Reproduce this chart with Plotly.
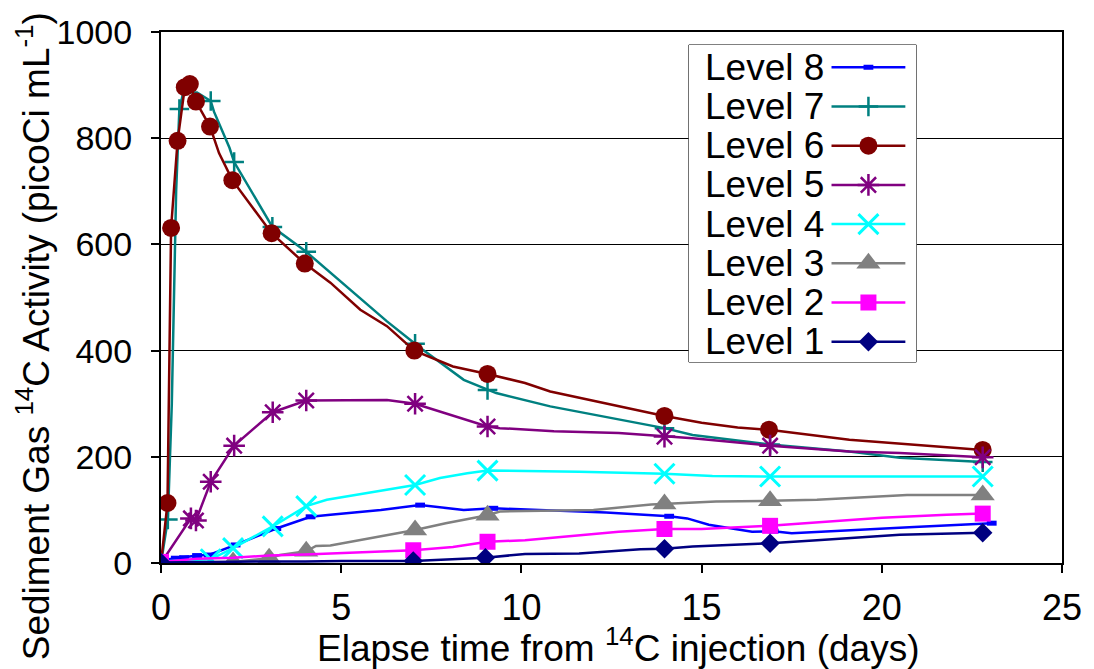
import plotly.graph_objects as go

# ---- data: elapsed time (days) and sediment gas 14C activity (picoCi/mL) ----
t_level1 = [0, 1, 2, 3, 4, 5, 7, 9, 10.1, 11.6, 13.3, 13.97, 14.75, 16.4, 16.9, 18.2, 20.5, 22.8]
v_level1 = [1, 2, 3, 3, 3, 4, 4, 10, 17, 18, 26, 27, 31, 35, 37, 43, 53, 57]
mk_level1 = [0, 6, 7, 11, 14, 17]

t_level2 = [0, 1, 2, 3, 4, 5, 7, 8.1, 9.06, 10.1, 12.7, 13.97, 15, 16.9, 19.1, 20, 21.8, 22.8]
v_level2 = [2, 8, 10, 14, 16, 19, 24, 30, 40, 43, 59, 64, 64, 70, 81, 85, 91, 93]
mk_level2 = [0, 6, 8, 11, 13, 17]

t_level3 = [0, 1, 2, 3, 3.3, 4.03, 4.3, 4.7, 6.1, 7.05, 7.9, 9.06, 9.4, 12, 13.6, 13.97, 15.4, 16.9, 18.2, 20.7, 22.8]
v_level3 = [0, 1, 2, 9, 15, 22, 32, 33, 50, 62, 75, 90, 97, 100, 110, 111, 116, 117, 119, 128, 128]
mk_level3 = [0, 2, 3, 5, 9, 11, 15, 17, 20]

t_level4 = [0, 0.5, 1.0, 1.38, 2.0, 3.1, 4.03, 4.6, 7.05, 7.74, 8.5, 9.06, 11.6, 13.97, 15.3, 16.9, 22.8]
v_level4 = [3, 5, 6, 7, 28, 69, 107, 119, 147, 160, 169, 174, 172, 168, 164, 163, 163]
mk_level4 = [3, 4, 5, 6, 8, 11, 13, 15, 16]

t_level5 = [0, 0.83, 0.97, 1.38, 2.03, 3.1, 4.03, 6.27, 7.05, 7.74, 9.06, 9.4, 10.9, 12.7, 13.97, 14.75, 16.9, 19.1, 20.5, 22.8]
v_level5 = [0, 84, 80, 153, 221, 284, 306, 307, 300, 285, 257, 254, 248, 245, 238, 235, 221, 210, 207, 199]
mk_level5 = [1, 2, 3, 4, 5, 6, 8, 10, 14, 16, 19]

t_level6 = [0, 0.18, 0.28, 0.46, 0.66, 0.8, 0.97, 1.36, 1.61, 1.98, 3.07, 3.99, 4.7, 5.53, 6.27, 7.03, 8.1, 9.06, 10.1, 10.8, 13.97, 15.0, 16.0, 16.87, 19.1, 22.8]
v_level6 = [0, 113, 631, 795, 896, 902, 869, 822, 772, 721, 621, 564, 528, 477, 446, 400, 370, 356, 339, 323, 277, 264, 255, 251, 232, 213]
mk_level6 = [1, 2, 3, 4, 5, 6, 7, 9, 10, 11, 15, 17, 20, 23, 25]

t_level7 = [0, 0.19, 0.3, 0.42, 0.51, 0.62, 1.0, 1.38, 1.47, 1.9, 2.03, 3.09, 4.03, 6.27, 7.05, 7.2, 8.4, 9.06, 9.3, 10.8, 12.7, 13.97, 14.75, 16.9, 19.1, 20.5, 22.8]
v_level7 = [0, 82, 300, 700, 855, 886, 886, 870, 850, 782, 755, 633, 586, 455, 413, 405, 345, 326, 320, 295, 270, 254, 241, 223, 210, 198, 190]
mk_level7 = [1, 4, 7, 10, 11, 12, 14, 17, 21, 23, 26]

t_level8 = [0, 0.41, 0.64, 1.0, 1.33, 2.07, 3.2, 4.15, 4.7, 6.1, 7.19, 8.4, 9.22, 12.35, 14.1, 14.6, 15.2, 16.4, 17.0, 17.5, 20.9, 23.05]
v_level8 = [5, 9, 10, 14, 15, 34, 65, 87, 91, 100, 109, 100, 103, 95, 88, 84, 72, 59, 60, 56, 68, 75]
mk_level8 = [1, 2, 3, 4, 5, 6, 7, 10, 12, 14, 18, 21]

level_names = ["Level 8", "Level 7", "Level 6", "Level 5", "Level 4", "Level 3", "Level 2", "Level 1"]

x_ticks = [0, 5, 10, 15, 20, 25]
y_ticks = [0, 200, 400, 600, 800, 1000]

# ---- styling per level ----
styles = {
    "Level 8": dict(color="#0000FF", marker=dict(symbol="line-ew", size=7, line=dict(width=5, color="#0000FF"))),
    "Level 7": dict(color="#008080", marker=dict(symbol="cross-thin", size=14, line=dict(width=2.5, color="#008080"))),
    "Level 6": dict(color="#800000", marker=dict(symbol="circle", size=18, color="#800000", line=dict(width=0))),
    "Level 5": dict(color="#800080", marker=dict(symbol="asterisk", size=18, line=dict(width=2.5, color="#800080"))),
    "Level 4": dict(color="#00FFFF", marker=dict(symbol="x-thin", size=20, line=dict(width=3, color="#00FFFF"))),
    "Level 3": dict(color="#808080", marker=dict(symbol="triangle-up", size=21, color="#808080", line=dict(width=0))),
    "Level 2": dict(color="#FF00FF", marker=dict(symbol="square", size=16, color="#FF00FF", line=dict(width=0))),
    "Level 1": dict(color="#000080", marker=dict(symbol="diamond", size=15, color="#000080", line=dict(width=0))),
}

series = {
    "Level 1": (t_level1, v_level1, mk_level1),
    "Level 2": (t_level2, v_level2, mk_level2),
    "Level 3": (t_level3, v_level3, mk_level3),
    "Level 4": (t_level4, v_level4, mk_level4),
    "Level 5": (t_level5, v_level5, mk_level5),
    "Level 6": (t_level6, v_level6, mk_level6),
    "Level 7": (t_level7, v_level7, mk_level7),
    "Level 8": (t_level8, v_level8, mk_level8),
}

FONT = "Arial, Liberation Sans, sans-serif"
W, H = 1094, 669
ML, MR, MT, MB = 161, 30, 32, 106
PW, PH = W - ML - MR, H - MT - MB
X_RANGE = [0, 25]
Y_RANGE = [0, 1000]


def px_to_paper_x(px):
    return (px - ML) / PW


def py_to_paper_y(py):
    return (H - MB - py) / PH


def px_to_data_x(px):
    return X_RANGE[0] + (px - ML) / PW * (X_RANGE[1] - X_RANGE[0])


def py_to_data_y(py):
    return Y_RANGE[0] + (H - MB - py) / PH * (Y_RANGE[1] - Y_RANGE[0])


fig = go.Figure()

# series drawn from Level 8 up to Level 1 so the lower levels sit on top
for name in level_names:
    t, v, mk = series[name]
    st = styles[name]
    fig.add_trace(go.Scatter(
        x=t, y=v, mode="lines", name=name, showlegend=False,
        line=dict(color=st["color"], width=2.5),
        hoverinfo="skip",
    ))
    fig.add_trace(go.Scatter(
        x=[t[i] for i in mk], y=[v[i] for i in mk], mode="markers",
        name=name, showlegend=False, marker=st["marker"],
    ))

# ---- legend box (text left, key on the right) ----
box_l, box_r, box_t, box_b = 690, 918, 45, 362
fig.add_shape(
    type="rect", xref="x", yref="y", layer="between",
    x0=px_to_data_x(box_l), x1=px_to_data_x(box_r),
    y0=py_to_data_y(box_b), y1=py_to_data_y(box_t),
    fillcolor="white", line=dict(color="black", width=1),
)

row0, row_step = 67.3, 39.2
key_x0, key_xm, key_x1 = 833, 870, 907
text_right = 827
for i, name in enumerate(level_names):
    yy = row0 + i * row_step
    ky = (box_b - yy) / (box_b - box_t)
    kx = [(p - box_l) / (box_r - box_l) for p in (key_x0, key_xm, key_x1)]
    st = styles[name]
    fig.add_trace(go.Scatter(
        x=[kx[0], kx[2]], y=[ky, ky], mode="lines", xaxis="x2", yaxis="y2",
        showlegend=False, hoverinfo="skip", line=dict(color=st["color"], width=2.5),
    ))
    fig.add_trace(go.Scatter(
        x=[kx[1]], y=[ky], mode="markers", xaxis="x2", yaxis="y2",
        showlegend=False, hoverinfo="skip", marker=st["marker"],
    ))
    fig.add_annotation(
        x=px_to_paper_x(text_right), y=py_to_paper_y(yy), xref="paper", yref="paper",
        text=name, showarrow=False, xanchor="right", yanchor="middle",
        font=dict(family=FONT, size=37, color="black"),
    )

# ---- axis titles ----
fig.add_annotation(
    x=px_to_paper_x(620), y=py_to_paper_y(645), xref="paper", yref="paper",
    text="Elapse time from <sup>14</sup>C injection (days)", showarrow=False,
    xanchor="center", yanchor="middle", font=dict(family=FONT, size=37, color="black"),
)
fig.add_annotation(
    x=px_to_paper_x(33), y=py_to_paper_y(336), xref="paper", yref="paper",
    text="Sediment Gas <sup>14</sup>C Activity (picoCi mL<sup>-1</sup>)", showarrow=False,
    textangle=-90, xanchor="center", yanchor="middle",
    font=dict(family=FONT, size=37, color="black"),
)

fig.update_layout(
    width=W, height=H,
    margin=dict(l=ML, r=MR, t=MT, b=MB, pad=0),
    paper_bgcolor="white", plot_bgcolor="white",
    showlegend=False,
    font=dict(family=FONT, color="black"),
    xaxis=dict(
        range=X_RANGE, tickvals=x_ticks, ticktext=[str(x) for x in x_ticks],
        showgrid=False, zeroline=False,
        showline=True, linecolor="black", linewidth=2, mirror=True,
        ticks="outside", ticklen=8, tickwidth=1.5, tickcolor="black",
        tickfont=dict(family=FONT, size=36, color="black"),
        ticklabelstandoff=4,
    ),
    yaxis=dict(
        range=Y_RANGE, tickvals=y_ticks, ticktext=[str(y) for y in y_ticks],
        showgrid=True, gridcolor="black", gridwidth=1, zeroline=False,
        showline=True, linecolor="black", linewidth=2, mirror=True,
        ticks="outside", ticklen=8, tickwidth=1.5, tickcolor="black",
        tickfont=dict(family=FONT, size=34, color="black"),
        ticklabelstandoff=12,
    ),
    xaxis2=dict(
        domain=[px_to_paper_x(box_l), px_to_paper_x(box_r)], range=[0, 1],
        anchor="y2", visible=False, fixedrange=True,
    ),
    yaxis2=dict(
        domain=[py_to_paper_y(box_b), py_to_paper_y(box_t)], range=[0, 1],
        anchor="x2", visible=False, fixedrange=True,
    ),
)

fig.write_html("out.html")
